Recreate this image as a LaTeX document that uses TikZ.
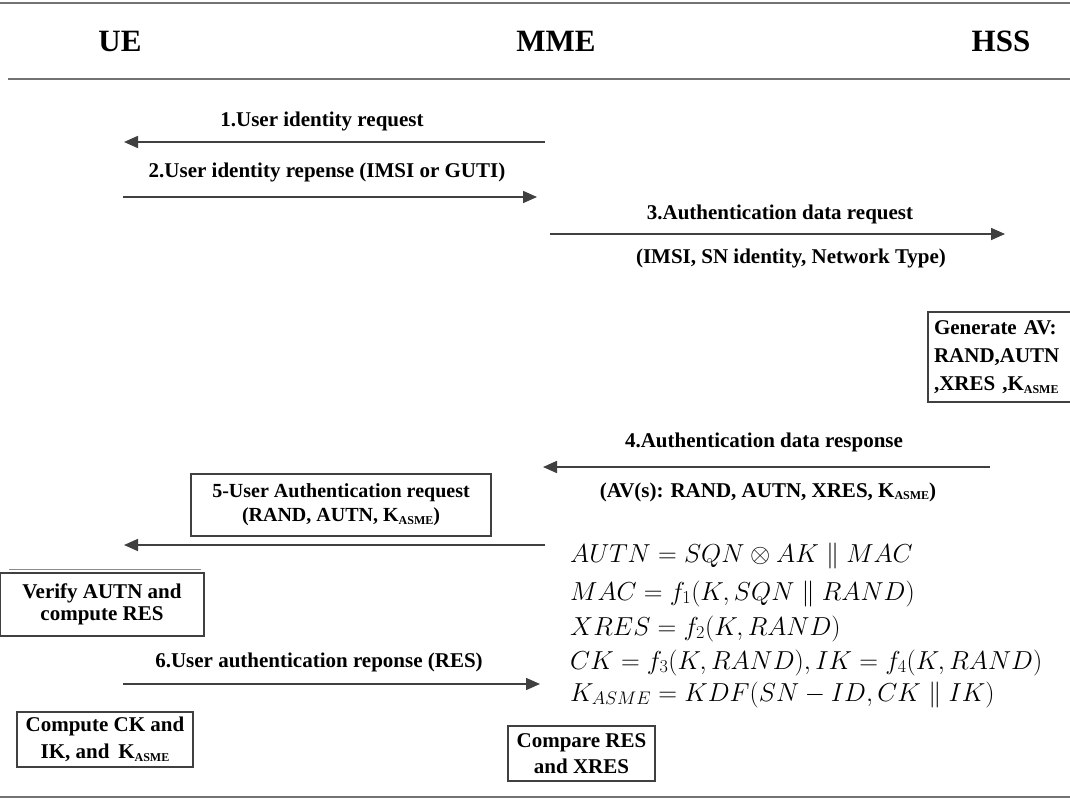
\RequirePackage{fix-cm}
\documentclass[tikz,border=0pt]{standalone}
\usepackage{fontspec}
\setmainfont{Liberation Serif}
\usetikzlibrary{arrows.meta}
\newcommand{\subasme}{\raisebox{-0.3ex}{\fontsize{12}{12}\selectfont ASME}}
\begin{document}
\begin{tikzpicture}[x=1pt,y=-1pt,
  msg/.style={draw=black!75, line width=1.7pt, -{Triangle[length=14pt,width=12pt]}},
  lbl/.style={font=\fontsize{21}{24}\selectfont\bfseries, inner sep=0pt},
  hdr/.style={font=\fontsize{31}{34}\selectfont\bfseries, inner sep=0pt},
  box/.style={draw=black!75, line width=1.7pt, font=\fontsize{21}{26}\selectfont\bfseries, align=center, inner sep=0pt},
  rulel/.style={draw=black!55, line width=2.6pt},
  eq/.style={anchor=base west, inner sep=0pt, font=\fontsize{26}{34}\selectfont}
]
\useasboundingbox (0,0) rectangle (1070,800);
\clip (0,0) rectangle (1070,800);
\fill[white] (0,0) rectangle (1070,800);

% rules
\coordinate (t0) at (0,3); \coordinate (t1) at (1070,3);
\coordinate (h0) at (8,79); \coordinate (h1) at (1070,79);
\coordinate (b0) at (0,797); \coordinate (b1) at (1070,797);
\draw[rulel] (t0) -- (t1);
\draw[rulel] (h0) -- (h1);
\draw[rulel] (b0) -- (b1);

% headers
\node[hdr] (ue)  at (120,41) {UE};
\node[hdr] (mme) at (556,41) {MME};
\node[hdr] (hss) at (1001,41) {HSS};

% message 1
\coordinate (m1a) at (545,142); \coordinate (m1b) at (124,142);
\draw[msg] (m1a) -- (m1b);
\node[lbl] (l1) at (322,121) {1.User identity request};

% message 2
\coordinate (m2a) at (123,197); \coordinate (m2b) at (537,197);
\draw[msg] (m2a) -- (m2b);
\node[lbl] (l2) at (327,172) {2.User identity repense (IMSI or GUTI)};

% message 3
\coordinate (m3a) at (550,234); \coordinate (m3b) at (1005,234);
\draw[msg] (m3a) -- (m3b);
\node[lbl] (l3) at (780,214) {3.Authentication data request};
\node[lbl] (l3b) at (791,258) {(IMSI, SN identity, Network Type)};

% generate AV
\node[box, align=left, text width=136pt, inner xsep=6pt, minimum height=90pt, font=\fontsize{21}{28}\selectfont\bfseries] (gen) at (1002,357)
  {Generate AV:\\RAND,AUTN\\,XRES ,K\subasme};

% message 4
\coordinate (m4a) at (990,467); \coordinate (m4b) at (543,467);
\draw[msg] (m4a) -- (m4b);
\node[lbl] (l4) at (764,442) {4.Authentication data response};
\node[lbl] (l4b) at (768,492) {(AV(s): RAND, AUTN, XRES, K\subasme)};

% message 5
\node[box, minimum width=300pt, minimum height=62pt, font=\fontsize{20}{24}\selectfont\bfseries] (b5) at (341,505)
  {5-User Authentication request\\(RAND, AUTN, K\subasme)};
\coordinate (m5a) at (545,545); \coordinate (m5b) at (124,545);
\draw[msg] (m5a) -- (m5b);

% verify box
\node[box, minimum width=204pt, minimum height=63pt, font=\fontsize{21}{22}\selectfont\bfseries] (ver) at (102,604.5)
  {Verify AUTN and\\compute RES};
\draw[black!45, line width=1.2pt] ([xshift=10pt,yshift=3pt]ver.north west) -- ([xshift=-4pt,yshift=3pt]ver.north east);

% message 6
\coordinate (m6a) at (123,684); \coordinate (m6b) at (540,684);
\draw[msg] (m6a) -- (m6b);
\node[lbl] (l6) at (319,662) {6.User authentication reponse (RES)};

% compute box
\node[box, minimum width=176pt, minimum height=55pt, font=\fontsize{21}{27}\selectfont\bfseries] (cmpk) at (105,739.5)
  {Compute CK and\\IK, and\, K\subasme};

% compare box
\node[box, minimum width=147pt, minimum height=55pt] (cmpr) at (581.5,753.5)
  {Compare RES\\and XRES};

% formulas
\node[eq] (f1) at (570,562) {$AUTN = SQN \otimes AK \parallel MAC$};
\node[eq] (f2) at (570,600) {$MAC = f_1(K, SQN \parallel RAND)$};
\node[eq] (f3) at (570,635) {$XRES = f_2(K, RAND)$};
\node[eq] (f4) at (570,669) {$CK = f_3(K, RAND), IK = f_4(K, RAND)$};
\node[eq] (f5) at (570,701) {$K_{ASME} = KDF(SN - ID, CK \parallel IK)$};
\end{tikzpicture}
\end{document}
